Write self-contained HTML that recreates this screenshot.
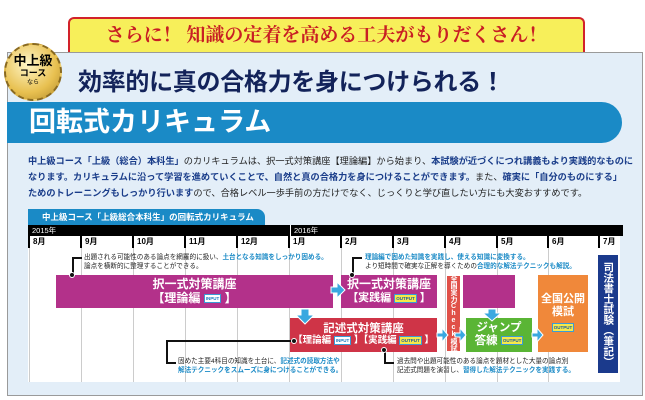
<!DOCTYPE html>
<html><head><meta charset="utf-8"><style>
*{margin:0;padding:0;box-sizing:border-box}
body{width:645px;height:400px;background:#fff;position:relative;overflow:hidden;font-family:"Liberation Sans","Noto Sans CJK JP",sans-serif}
.a{position:absolute}
.box{position:absolute;color:#fff;font-weight:bold;text-align:center;display:flex;flex-direction:column;justify-content:center;align-items:center;line-height:1.15;white-space:nowrap;overflow:hidden}
.tg{display:inline-block;font-size:4.5px;font-weight:bold;padding:0 1px;vertical-align:middle;border:1px solid #3a9bd6;line-height:7px}
.in{background:#fff;color:#1a7cc0}
.out{background:#f5e94a;color:#1a5ca0}
.m{position:absolute;top:236px;font-size:8px;font-weight:bold;border-left:2px solid #000;padding-left:3px;line-height:12px}
.vl{position:absolute;top:248px;height:134px;border-left:1px solid #ccc}
.note{position:absolute;font-size:6.6px;line-height:9px;color:#222;white-space:nowrap}
.note b{color:#1a8ac6}
.dot{position:absolute;width:6px;height:6px;border-radius:50%;background:#111;border:1px solid #fff}
.ln{position:absolute;background:#111}
</style></head><body>
<div class="a" style="left:68px;top:17px;width:517px;height:38px;background:#f7ef5a;border:2px solid #d2222a;border-bottom:none;border-radius:6px 6px 0 0;color:#c81e24;font-weight:bold;font-size:19px;text-align:center;line-height:34px;font-family:'Liberation Serif','Noto Serif CJK SC',serif">さらに！ 知識の定着を高める工夫がもりだくさん！</div>
<div class="a" style="left:7px;top:52px;width:636px;height:344px;background:#e3eef8;border:1px solid #9a9a9a"></div>
<div class="a" style="left:4px;top:43px;width:58px;height:58px;border-radius:50%;background:radial-gradient(circle at 40% 35%,#fff6c8,#e8c050 60%,#b08a2a);border:2px dashed #8a6a20;text-align:center;color:#000;font-weight:bold">
<div style="font-size:13px;margin-top:9px;line-height:14px">中上級</div>
<div style="font-size:9px;line-height:11px">コース</div>
<div style="font-size:6px;line-height:8px;font-weight:normal">なら</div></div>
<div class="a" style="left:78px;top:62px;font-size:24px;font-weight:bold;color:#13235a;white-space:nowrap;letter-spacing:-0.3px">効率的に真の合格力を身につけられる！</div>
<div class="a" style="left:7px;top:102px;width:615px;height:41px;background:#1a8ac6;border-radius:0 22px 22px 0;color:#fff;font-weight:bold;font-size:27px;line-height:41px;padding-left:22px">回転式カリキュラム</div>
<div class="a" style="left:28px;top:153px;width:595px;font-size:9.2px;line-height:16px;color:#222;white-space:nowrap">
<div><b style="color:#1a3d8a">中上級コース「上級（総合）本科生」</b>のカリキュラムは、択一式対策講座【理論編】から始まり、<b style="color:#1a3d8a">本試験が近づくにつれ講義もより実践的なものに</b></div>
<div><b style="color:#1a3d8a">なります。カリキュラムに沿って学習を進めていくことで、自然と真の合格力を身につけることができます。</b>また、<b style="color:#1a3d8a">確実に「自分のものにする」</b></div>
<div><b style="color:#1a3d8a">ためのトレーニングもしっかり行います</b>ので、合格レベル一歩手前の方だけでなく、じっくりと学び直したい方にも大変おすすめです。</div></div>
<div class="a" style="left:28px;top:209px;width:237px;height:16px;background:#1a8ac6;border-radius:0 8px 0 0;color:#fff;font-size:8.5px;font-weight:bold;line-height:16px;padding-left:14px">中上級コース「上級総合本科生」の回転式カリキュラム</div>
<div class="a" style="left:28px;top:225px;width:595px;height:11px;background:#000;color:#fff;font-size:7.5px;line-height:11px"><span style="margin-left:4px">2015年</span><span style="position:absolute;left:262px;border-left:1px solid #fff;padding-left:3px">2016年</span></div>
<div class="a" style="left:28px;top:236px;width:592px;height:146px;background:#fff"></div>
<div class="m" style="left:28px">8月</div><div class="m" style="left:80px">9月</div><div class="m" style="left:132px">10月</div><div class="m" style="left:184px">11月</div><div class="m" style="left:236px">12月</div><div class="m" style="left:288px">1月</div><div class="m" style="left:340px">2月</div><div class="m" style="left:392px">3月</div><div class="m" style="left:444px">4月</div><div class="m" style="left:496px">5月</div><div class="m" style="left:547px">6月</div><div class="m" style="left:598px">7月</div>
<div class="vl" style="left:29px"></div><div class="vl" style="left:81px"></div><div class="vl" style="left:133px"></div><div class="vl" style="left:185px"></div><div class="vl" style="left:237px"></div><div class="vl" style="left:289px"></div><div class="vl" style="left:341px"></div><div class="vl" style="left:393px"></div><div class="vl" style="left:445px"></div><div class="vl" style="left:497px"></div><div class="vl" style="left:548px"></div>
<div class="box" style="left:56px;top:275px;width:277px;height:33px;background:#b3318a;font-size:12px">択一式対策講座<div>【理論編 <span class="tg in">INPUT</span> 】</div></div>
<div class="box" style="left:341px;top:275px;width:96px;height:33px;background:#b3318a;font-size:12px">択一式対策講座<div style="font-size:11px">【実践編 <span class="tg out">OUTPUT</span> 】</div></div>
<div class="box" style="left:463px;top:275px;width:52px;height:33px;background:#b3318a"></div>
<div class="box" style="left:446px;top:275px;width:15px;height:77px;background:#e05048;font-size:7px;border:1px solid #fff;writing-mode:vertical-rl;text-orientation:upright;line-height:1">全国実力Check模試</div>
<div class="box" style="left:290px;top:318px;width:147px;height:34px;background:#cf3447;font-size:11.5px">記述式対策講座<div style="font-size:9.5px">【理論編 <span class="tg in">INPUT</span> 】【実践編 <span class="tg out">OUTPUT</span> 】</div></div>
<div class="box" style="left:466px;top:318px;width:66px;height:34px;background:#5ab535;font-size:11.5px">ジャンプ<div>答練 <span class="tg out">OUTPUT</span></div></div>
<div class="box" style="left:538px;top:275px;width:50px;height:77px;background:#f0883a;font-size:11px">全国公開<div>模試</div><div style="margin-top:3px"><span class="tg out">OUTPUT</span></div></div>
<div class="box" style="left:598px;top:255px;width:20px;height:118px;background:#1b3a8c;font-size:10.5px;writing-mode:vertical-rl;text-orientation:upright;line-height:1">司法書士試験（筆記）</div>
<svg class="a" style="left:0;top:0" width="645" height="400">
<g fill="#3aa8e0" stroke="#fff" stroke-width="1">
<path d="M331 287h6v-5l8 8-8 8v-5h-6z"/>
<path d="M301 309h8v6h5l-9 9-9-9h5z"/>
<path d="M437 333h5v-5l6 7-6 7v-5h-5z"/>
<path d="M455 333h5v-5l6 7-6 7v-5h-5z"/>
<path d="M532 333h5v-5l6 7-6 7v-5h-5z"/>
<path d="M488 309h8v4h5l-9 8-9-8h5z"/>
</g></svg>
<div class="ln" style="left:72px;top:257px;width:2px;height:18px"></div><div class="ln" style="left:72px;top:257px;width:10px;height:2px"></div><div class="dot" style="left:69px;top:272px"></div>
<div class="note" style="left:84px;top:253px">出題される可能性のある論点を網羅的に扱い、<b>土台となる知識をしっかり固める。</b><br>論点を横断的に整理することができる。</div>
<div class="ln" style="left:352px;top:257px;width:2px;height:18px"></div><div class="ln" style="left:352px;top:257px;width:10px;height:2px"></div><div class="dot" style="left:349px;top:272px"></div>
<div class="note" style="left:365px;top:253px"><b>理論編で固めた知識を実践し、使える知識に変換する。</b><br>より短時間で確実な正解を導くための<b>合理的な解法テクニックも解説。</b></div>
<div class="ln" style="left:166px;top:340px;width:128px;height:2px"></div><div class="ln" style="left:166px;top:340px;width:2px;height:24px"></div><div class="ln" style="left:166px;top:362px;width:10px;height:2px"></div><div class="dot" style="left:291px;top:338px"></div>
<div class="note" style="left:178px;top:357px">固めた主要4科目の知識を土台に、<b>記述式の読取方法や</b><br><b>解法テクニックをスムーズに身につけることができる。</b></div>
<div class="ln" style="left:384px;top:350px;width:2px;height:14px"></div><div class="ln" style="left:384px;top:362px;width:10px;height:2px"></div><div class="dot" style="left:381px;top:347px"></div>
<div class="note" style="left:397px;top:357px">過去問や出題可能性のある論点を題材とした大量の論点別<br>記述式問題を演習し、<b>習得した解法テクニックを実践する。</b></div>
</body></html>
